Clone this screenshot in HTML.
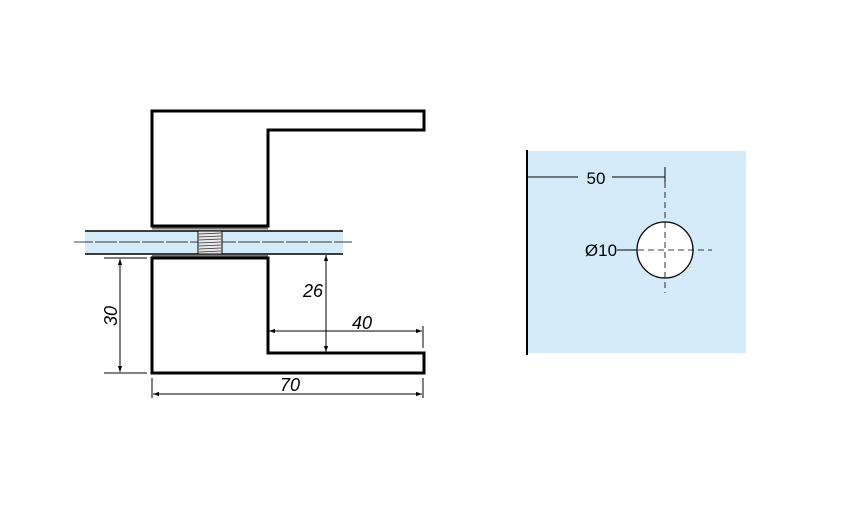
<!DOCTYPE html>
<html><head><meta charset="utf-8"><style>html,body{margin:0;padding:0;background:#fff}svg{display:block}</style></head>
<body>
<svg width="852" height="509" viewBox="0 0 852 509" xmlns="http://www.w3.org/2000/svg" font-family="Liberation Sans, sans-serif">
<defs>
<marker id="a" viewBox="0 0 10 10" refX="10" refY="5" markerWidth="16" markerHeight="6" orient="auto-start-reverse" markerUnits="userSpaceOnUse"><path d="M0,1.5 L10,5 L0,8.5 Z" fill="#000"/></marker>
</defs>
<rect x="85" y="231" width="258" height="23" fill="#d6ebf9"/>
<line x1="85" y1="231" x2="343" y2="231" stroke="#000" stroke-width="1.5"/>
<line x1="85" y1="254" x2="343" y2="254" stroke="#000" stroke-width="1.5"/>
<line x1="74" y1="242" x2="352" y2="242" stroke="#000" stroke-width="0.8"/>
<g stroke="#fff" stroke-width="1.5"><line x1="93" y1="242" x2="95" y2="242"/><line x1="117" y1="242" x2="119" y2="242"/><line x1="140" y1="242" x2="142" y2="242"/><line x1="164" y1="242" x2="166" y2="242"/><line x1="188" y1="242" x2="190" y2="242"/><line x1="236" y1="242" x2="238" y2="242"/><line x1="260" y1="242" x2="262" y2="242"/><line x1="284" y1="242" x2="286" y2="242"/><line x1="308" y1="242" x2="310" y2="242"/><line x1="332" y1="242" x2="334" y2="242"/></g>
<rect x="198" y="231" width="24" height="23" fill="#e8e8e8" stroke="#000" stroke-width="1"/>
<g stroke="#333" stroke-width="0.8">
<line x1="199" y1="234" x2="221" y2="233"/><line x1="199" y1="237" x2="221" y2="236"/><line x1="199" y1="240" x2="221" y2="239"/><line x1="199" y1="243" x2="221" y2="242"/><line x1="199" y1="246" x2="221" y2="245"/><line x1="199" y1="249" x2="221" y2="248"/><line x1="199" y1="252" x2="221" y2="251"/>
</g>
<line x1="152" y1="228.5" x2="268" y2="228.5" stroke="#777" stroke-width="2"/>
<line x1="152" y1="256" x2="268" y2="256" stroke="#777" stroke-width="2"/>
<path d="M152,111 H424 V130 H268 V226 H152 Z" fill="#fff" stroke="#000" stroke-width="3"/>
<path d="M152,258 H268 V353 H424 V373 H152 Z" fill="#fff" stroke="#000" stroke-width="3"/>
<g stroke="#000" stroke-width="1" fill="none">
<line x1="104" y1="258" x2="147" y2="258"/><line x1="104" y1="373" x2="147" y2="373"/>
<line x1="120" y1="259" x2="120" y2="372" marker-start="url(#a)" marker-end="url(#a)"/>
<line x1="326" y1="255" x2="326" y2="352" marker-start="url(#a)" marker-end="url(#a)"/>
<line x1="269" y1="331" x2="422" y2="331" marker-start="url(#a)" marker-end="url(#a)"/>
<line x1="423" y1="326" x2="423" y2="348"/>
<line x1="152" y1="378" x2="152" y2="398"/><line x1="423" y1="378" x2="423" y2="398"/>
<line x1="153" y1="394" x2="422" y2="394" marker-start="url(#a)" marker-end="url(#a)"/>
</g>
<g font-style="italic" font-size="18" fill="#000">
<text x="117" y="316" text-anchor="middle" transform="rotate(-90 117 316)">30</text>
<text x="313" y="297" text-anchor="middle">26</text>
<text x="362" y="329" text-anchor="middle">40</text>
<text x="290" y="391" text-anchor="middle">70</text>
</g>
<rect x="527" y="151" width="219" height="202" fill="#d6ebf9"/>
<line x1="527" y1="150" x2="527" y2="355" stroke="#000" stroke-width="2"/>
<g stroke="#000" stroke-width="1">
<line x1="527" y1="177" x2="578" y2="177"/><line x1="612" y1="177" x2="665" y2="177"/>
<line x1="665" y1="167" x2="665" y2="182"/>
<line x1="617" y1="250" x2="638" y2="250"/>
</g>
<circle cx="665" cy="250" r="28" fill="#fff" stroke="#000" stroke-width="1.3"/>
<g stroke="#000" stroke-width="0.8" stroke-dasharray="6,4">
<line x1="665" y1="182" x2="665" y2="293"/>
<line x1="638" y1="250" x2="712" y2="250"/>
</g>
<g font-size="17" fill="#000">
<text x="596" y="184" text-anchor="middle">50</text>
<text x="601" y="256" text-anchor="middle">Ø10</text>
</g>
</svg>
</body></html>
